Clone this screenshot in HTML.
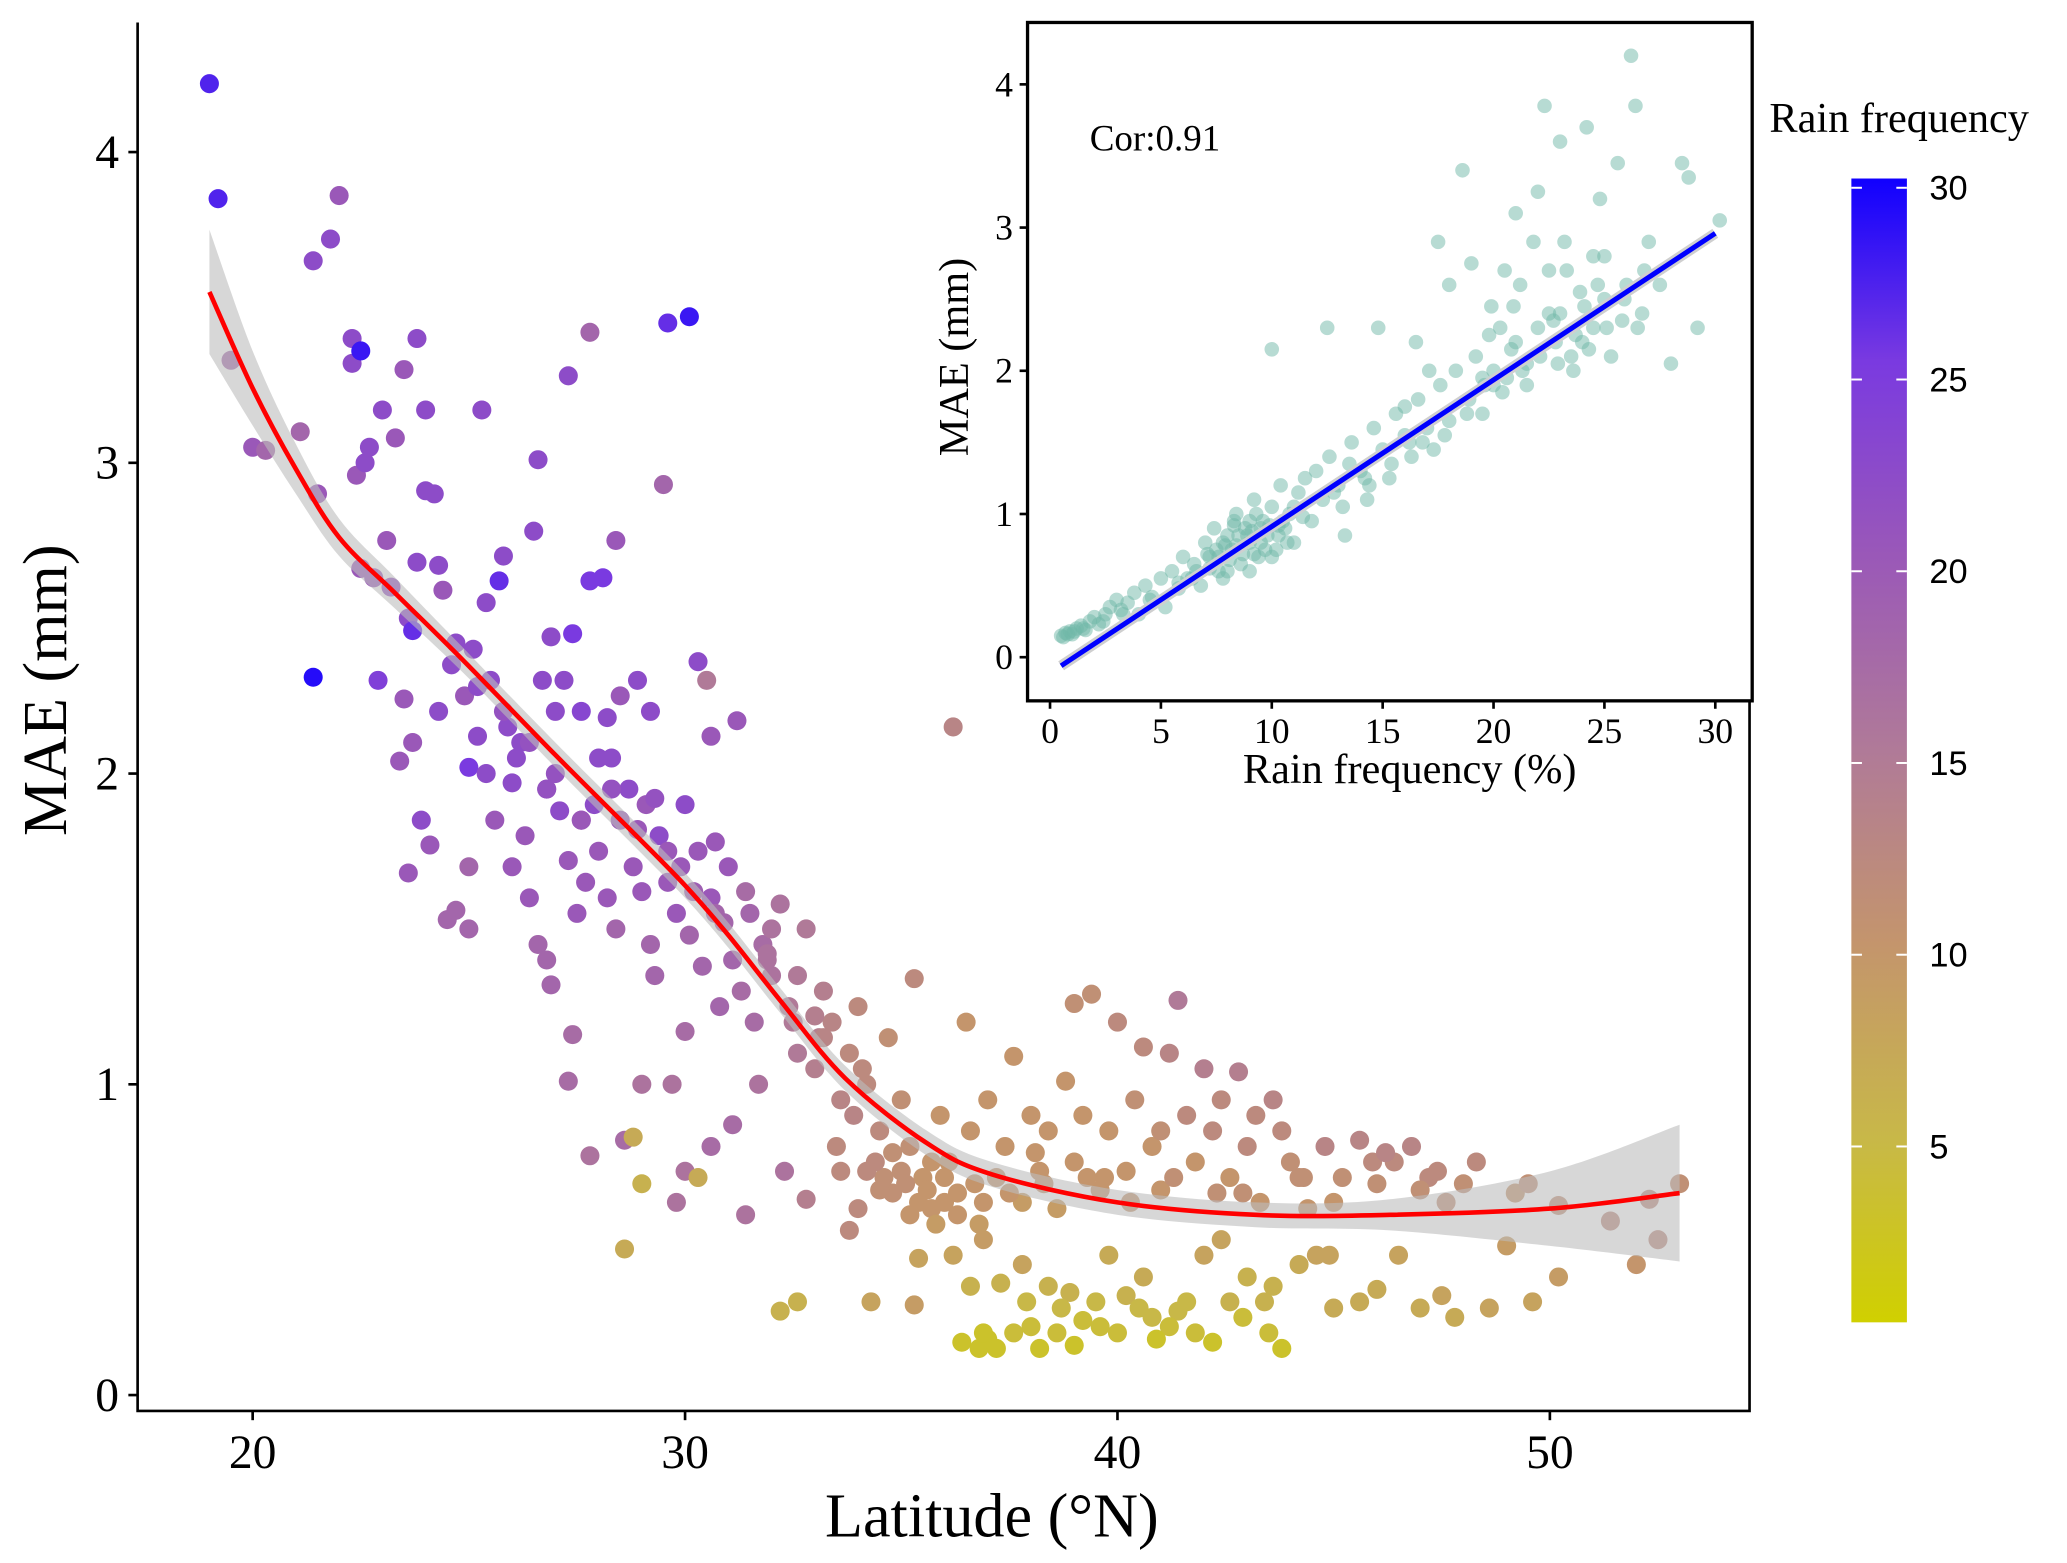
<!DOCTYPE html>
<html><head><meta charset="utf-8"><style>
html,body{margin:0;padding:0;background:#fff;}
svg{display:block;}
text{font-family:"Liberation Serif",serif;fill:#000;}
</style></head><body>
<svg id="chart" width="2067" height="1563" viewBox="0 0 1563 1182" xmlns="http://www.w3.org/2000/svg">
<defs>
<linearGradient id="cbg" x1="0" y1="1" x2="0" y2="0">
<stop offset="0" stop-color="#d0d000"/><stop offset="0.16" stop-color="#c8b848"/><stop offset="0.33" stop-color="#c4956c"/><stop offset="0.5" stop-color="#b07a98"/><stop offset="0.67" stop-color="#9a58b8"/><stop offset="0.84" stop-color="#7a3ae0"/><stop offset="1" stop-color="#1000ff"/>
</linearGradient>
</defs>
<g id="main"></g>
<g id="inset"></g>
<g id="legend"></g>
</svg>
<script>
// ---- main scatter data ----
const mainLat=[19.0,19.2,19.5,20.0,20.3,21.1,21.4,21.5,21.4,21.8,22.0,22.3,22.3,22.5,22.4,22.5,22.6,22.7,22.8,22.9,23.0,23.1,23.2,23.3,23.5,23.5,23.6,23.7,23.8,23.8,24.0,24.0,24.2,24.3,24.4,23.4,23.7,23.9,24.1,23.6,24.5,24.7,25.0,25.0,24.7,24.9,25.1,25.3,25.4,25.0,25.2,25.5,25.7,25.8,25.9,26.0,26.1,26.3,26.5,26.6,26.7,26.9,27.0,27.2,27.3,27.4,27.6,27.8,27.8,28.1,28.4,28.2,28.5,28.9,29.2,29.5,29.6,30.1,30.3,30.5,30.6,31.2,36.2,
25.4,25.6,26.0,26.4,26.6,26.8,26.9,27.1,27.3,27.5,27.7,27.9,28.0,28.2,28.4,28.5,28.7,28.8,29.0,29.2,29.3,29.4,29.6,29.8,30.0,30.1,30.3,30.4,30.6,30.8,31.0,31.1,31.3,31.5,31.6,31.8,32.0,32.2,32.4,32.6,32.8,33.0,33.2,33.4,33.6,33.8,34.0,34.2,34.5,34.7,35.0,35.3,27.4,27.3,28.6,29.0,29.7,30.0,30.0,29.8,30.3,29.0,28.8,28.6,27.8,31.4,31.1,30.6,31.7,32.3,32.8,32.2,32.6,34.3,35.3,33.6,33.8,34.0,
35.2,35.5,35.7,35.9,36.1,36.3,36.5,36.6,36.8,37.0,37.2,37.4,37.6,37.8,38.0,38.2,38.4,38.6,38.8,39.0,39.0,39.2,39.4,39.6,39.8,40.0,40.2,40.4,40.6,40.8,41.0,41.2,41.4,41.6,41.8,42.0,42.2,42.4,42.6,42.8,43.0,43.2,43.6,43.8,44.0,44.4,44.8,45.2,45.6,46.0,46.4,46.8,47.2,47.6,48.0,48.3,49.2,49.5,50.2,51.4,52.0,52.3,52.5,53.0,49.0,50.2,49.6,48.6,47.8,47.5,47.0,46.5,46.0,45.6,45.0,44.6,44.2,43.6,43.4,43.0,42.6,42.4,42.0,41.8,41.4,41.2,40.8,40.6,40.2,40.0,39.8,39.5,39.2,38.9,38.6,38.4,38.2,37.9,37.6,37.3,37.0,36.8,36.6,36.4,36.2,35.8,35.4,43.8,43.5,42.2,40.5,39.0,37.2,34.8,35.0,35.6,36.0,34.6,
26.2,26.8,27.6,28.3,29.1,29.9,30.7,31.9,32.5,33.1,33.9,34.4,36.9,38.1,39.7,41.0,42.9,44.3,45.9,47.4,
34.8,35.1,35.4,35.7,36.0,36.3,35.2,34.5,36.7,37.5,38.3,39.3,40.3,41.3,42.3,43.3,44.2,45.0,46.2,47.0,34.2,33.5,33.2,32.6,32.0,31.4,30.9,30.2,29.6,28.9,28.3,27.6,27.0,26.4,25.8,25.2,24.6,24.3,26.8,28.0,29.3,30.7,31.9,33.0,34.1,36.9,37.8,38.7,39.6,40.9,42.9,38.0,36.9,41.6,44.9];
const mainMae=[4.22,3.85,3.33,3.05,3.04,3.10,3.65,2.90,2.31,3.72,3.86,3.40,3.32,3.36,2.96,2.66,3.00,3.05,2.63,2.30,3.17,2.75,2.60,3.08,3.30,2.24,2.50,2.46,3.40,2.68,3.17,2.91,2.90,2.67,2.59,2.04,2.10,1.85,1.77,1.68,1.53,1.56,1.50,1.70,2.42,2.25,2.40,3.17,2.55,2.02,2.12,2.30,2.62,2.70,2.15,1.97,2.05,1.80,2.78,3.01,2.30,2.44,2.20,2.30,3.28,2.45,2.20,3.42,2.62,2.63,2.75,2.18,2.25,2.30,2.20,2.93,3.45,3.47,2.36,2.30,2.12,2.17,2.15,
2.00,1.85,1.70,1.60,1.45,1.40,1.32,1.88,1.72,1.55,1.65,1.90,1.75,1.60,1.50,1.85,1.95,1.70,1.62,1.45,1.35,1.80,1.65,1.55,1.90,1.48,1.75,1.38,1.60,1.25,1.70,1.40,1.30,1.55,1.20,1.45,1.35,1.58,1.25,1.10,1.50,1.05,1.30,1.20,0.95,1.10,1.25,1.00,0.85,1.15,0.95,1.34,1.16,1.01,0.82,1.00,1.00,1.17,0.72,0.62,0.70,0.68,0.83,0.47,0.77,0.58,0.87,0.80,1.00,0.72,0.63,0.27,0.30,0.30,0.29,0.72,0.53,0.60,
0.80,0.70,0.60,0.90,0.75,0.65,1.20,0.85,0.55,0.95,0.70,0.80,1.09,0.62,0.90,0.72,0.85,0.60,1.01,0.75,1.26,0.90,1.29,0.66,0.85,1.20,0.72,0.95,1.12,0.80,0.66,1.10,1.27,0.90,0.75,1.05,0.85,0.95,0.70,1.04,0.80,0.90,0.95,0.85,0.75,0.60,0.80,0.70,0.82,0.68,0.75,0.80,0.70,0.62,0.68,0.75,0.65,0.68,0.61,0.56,0.42,0.63,0.50,0.68,0.48,0.38,0.30,0.28,0.25,0.32,0.28,0.45,0.34,0.30,0.28,0.45,0.42,0.35,0.30,0.38,0.30,0.50,0.45,0.20,0.27,0.22,0.25,0.38,0.32,0.20,0.45,0.30,0.24,0.33,0.20,0.35,0.15,0.30,0.20,0.36,0.18,0.15,0.35,0.17,0.45,0.55,0.44,0.15,0.20,0.17,0.28,0.16,0.15,0.65,0.72,0.66,0.62,0.70,
2.10,1.95,1.85,2.05,1.90,1.70,1.55,1.40,1.20,1.15,0.90,0.75,0.62,0.78,0.70,0.85,0.65,0.70,0.75,0.72,
0.78,0.68,0.62,0.75,0.70,0.58,0.58,0.66,0.68,0.65,0.68,0.70,0.62,0.70,0.65,0.62,0.70,0.62,0.78,0.66,0.72,0.80,1.15,1.35,1.50,1.62,1.52,1.62,1.75,1.82,1.95,1.85,2.00,2.10,2.20,2.28,2.35,2.20,1.95,2.05,1.92,1.78,1.42,1.22,1.05,0.50,0.42,0.28,0.22,0.18,0.25,0.22,0.20,0.30,0.45];
const mainRf=[27,27,18,20,18,18,22,20,29,22,20,22,22,28,20,20,22,22,20,24,22,20,21,20,20,20,22,26,22,22,22,22,22,22,20,20,20,22,20,20,18,18,18,18,22,20,22,22,22,25,22,22,26,22,22,22,22,20,22,22,22,22,22,22,22,25,23,18,25,25,20,22,20,22,22,18,26,28,22,15,20,20,13,
22,20,20,20,18,18,18,22,20,20,20,22,20,20,18,20,22,20,20,18,18,22,20,20,22,18,20,18,20,18,20,18,17,18,17,17,16,16,15,15,15,14,14,13,13,12,12,12,12,11,11,12,17,17,17,16,16,17,16,16,7,6,7,7,16,16,17,17,16,16,14,6,6,8,9,12,12,12,
11,10,10,10,10,10,10,10,9,10,10,10,10,9,10,10,10,9,10,10,11,10,11,10,10,12,10,11,12,10,10,13,15,12,10,14,12,12,10,14,12,12,13,12,11,10,13,11,13,11,12,13,12,11,11,12,10,11,11,12,10,12,12,11,9,9,8,8,7,8,7,8,7,7,7,8,7,6,6,6,6,8,8,4,5,4,5,7,6,4,7,5,4,6,4,6,3,5,4,6,3,3,6,3,8,9,8,3,4,3,5,3,3,11,11,10,10,11,
22,21,21,22,20,20,18,16,15,14,13,12,10,10,10,11,11,11,12,12,
11,11,10,10,10,10,10,11,10,10,10,10,10,11,11,10,11,10,13,11,12,12,13,15,16,17,18,19,20,20,21,20,21,21,21,22,22,22,21,22,21,20,16,14,12,9,8,5,4,3,4,4,3,5,8];
// smooth (loess) curve and confidence band
const smoothLat=[19,20,21,22,23.3,24.9,27,28.8,30,31,32.2,33.7,35.6,37.1,40,43.2,46.3,50,53];
const smoothMae=[3.55,3.24,2.98,2.76,2.58,2.36,2.06,1.81,1.64,1.48,1.27,1.02,0.81,0.71,0.62,0.58,0.58,0.60,0.65];
const smoothSe=[0.2,0.12,0.08,0.06,0.05,0.04,0.04,0.04,0.04,0.04,0.04,0.04,0.04,0.04,0.04,0.04,0.05,0.12,0.22];
const mainXTicks=[20,30,40,50];
const mainYTicks=[0,1,2,3,4];
// ---- inset data ----
const insetRf=[0.5,0.7,0.9,1.0,1.2,1.4,1.6,1.8,2.0,2.2,2.5,2.7,3.0,3.2,3.5,3.8,4.0,4.3,4.6,5.0,5.2,5.5,5.8,6.0,6.2,6.5,6.8,7.0,7.2,7.4,7.6,7.8,8.0,8.2,8.4,8.6,8.8,9.0,9.2,9.4,9.6,9.8,10.0,10.0,10.2,10.4,10.6,10.8,11.0,11.2,11.5,11.8,12.0,12.3,12.6,13.0,13.3,13.6,14.0,14.3,14.6,15.0,15.3,15.6,16.0,16.3,16.6,17.0,17.3,17.6,18.0,18.3,18.6,18.9,19.2,19.5,19.8,20.0,20.3,20.6,20.9,21.2,21.5,21.8,22.0,22.3,22.5,22.8,23.0,23.3,23.6,23.9,24.2,24.5,24.8,25.0,25.3,25.6,25.9,26.2,26.4,26.7,27.0,27.5,28.0,28.5,28.8,29.2,30.2,12.5,14.8,16.5,17.5,18.0,19.0,21.0,20.5,7.5,8.5,9.5,10.5,9.0,8.0,11.0,10.0,9.3,8.7,21,22,23,24,25,26,22.5,24.5,20,21.5,23.5,0.6,0.8,1.1,6.6,7.1,7.9,8.3,9.1,9.7,10.3,11.4,13.5,14.4,16.2,19.5,22.7,24.1,26.8,
7.2,7.8,8.1,8.4,8.9,9.2,9.5,9.9,10.3,10.7,8.3,9.0,7.6,6.4,5.8,4.5,3.3,2.4,1.5,12.8,13.2,14.2,15.4,16.8,17.8,18.8,19.6,20.4,21.3,22.1,22.9,23.7,24.3,25.1,25.8,26.5,20.8,19.9,23.2,24.7,17.1,16.0];
const insetMae=[0.15,0.17,0.18,0.16,0.20,0.22,0.19,0.25,0.28,0.23,0.30,0.35,0.40,0.33,0.38,0.45,0.30,0.50,0.42,0.55,0.35,0.60,0.48,0.70,0.55,0.65,0.50,0.80,0.62,0.90,0.70,0.55,0.85,0.75,1.00,0.65,0.90,0.80,1.10,0.70,0.95,0.85,2.15,1.05,0.75,1.20,0.90,1.00,0.80,1.15,1.25,0.95,1.30,1.10,1.40,1.20,0.85,1.50,1.30,1.10,1.60,1.45,1.25,1.70,1.55,1.40,1.80,1.60,1.45,1.90,1.65,2.00,3.40,1.80,2.10,1.70,2.25,1.90,2.30,1.95,2.45,2.60,2.05,2.90,3.25,3.85,2.40,2.20,3.60,2.70,2.00,2.55,3.70,2.30,3.20,2.80,2.10,3.45,2.50,4.20,3.85,2.40,2.90,2.60,2.05,3.45,3.35,2.30,3.05,2.30,2.30,2.20,2.90,2.60,2.75,3.10,2.70,0.75,0.85,0.90,0.95,0.60,0.60,1.05,0.70,1.00,0.72,2.2,2.3,2.4,2.2,2.5,2.6,2.7,2.8,2.0,1.9,2.1,0.14,0.16,0.18,0.60,0.72,0.78,0.95,0.88,0.75,0.92,0.98,1.35,1.20,1.50,1.95,2.35,2.45,2.70,
0.70,0.80,0.68,0.78,0.85,0.72,0.80,0.92,0.85,0.80,0.92,0.95,0.60,0.55,0.52,0.40,0.30,0.25,0.20,1.15,1.05,1.25,1.35,1.50,1.55,1.70,1.90,1.85,2.00,2.10,2.05,2.25,2.15,2.30,2.35,2.30,2.15,2.45,2.90,2.60,2.00,1.75];
const regRf=[0.5,30];
const regMae=[-0.06,2.96];
const insetXTicks=[0,5,10,15,20,25,30];
const insetYTicks=[0,1,2,3,4];
const cbTicks=[5,10,15,20,25,30];

const NS="http://www.w3.org/2000/svg";
function mk(tag,attrs,parent){const e=document.createElementNS(NS,tag);for(const k in attrs)e.setAttribute(k,attrs[k]);parent.appendChild(e);return e;}
const mx=v=>191+(v-20)*32.7, my=v=>1055-v*235;
const ix=v=>794+v*16.77, iy=v=>497-v*108.3;
const cy=v=>142+(30-v)*29;
const stops=[[0,[208,208,0]],[5,[200,184,72]],[10,[196,149,108]],[15,[176,122,152]],[20,[154,88,184]],[25,[122,58,224]],[30,[16,0,255]]];
function col(v){v=Math.max(0,Math.min(30,v));for(let i=1;i<stops.length;i++){if(v<=stops[i][0]){const a=stops[i-1],b=stops[i],t=(v-a[0])/(b[0]-a[0]);return 'rgb('+a[1].map((c,j)=>Math.round(c+(b[1][j]-c)*t)).join(',')+')';}}return 'rgb(16,0,255)';}
function crPath(pts){let d='M'+pts[0][0]+','+pts[0][1];for(let i=0;i<pts.length-1;i++){const p0=pts[Math.max(0,i-1)],p1=pts[i],p2=pts[i+1],p3=pts[Math.min(pts.length-1,i+2)];d+=' C'+(p1[0]+(p2[0]-p0[0])/6)+','+(p1[1]+(p2[1]-p0[1])/6)+' '+(p2[0]-(p3[0]-p1[0])/6)+','+(p2[1]-(p3[1]-p1[1])/6)+' '+p2[0]+','+p2[1];}return d;}

const main=document.getElementById('main');
mainLat.forEach((la,i)=>{
 const c=mk('circle',{cx:mx(la),cy:my(mainMae[i]),r:7.2,fill:col(mainRf[i])},main);
 
 
});
const upP=smoothLat.map((la,i)=>[mx(la),my(smoothMae[i]+smoothSe[i])]);
const loP=smoothLat.map((la,i)=>[mx(la),my(smoothMae[i]-smoothSe[i])]).reverse();
const band=mk('path',{d:crPath(upP)+' L'+crPath(loP).slice(1)+' Z',fill:'#bdbdbd','fill-opacity':0.6},main);


const sm=mk('path',{d:crPath(smoothLat.map((la,i)=>[mx(la),my(smoothMae[i])])),fill:'none',stroke:'#ff0000','stroke-width':3.5},main);


const ax=mk('path',{d:'M104,17 V1067 H1323 V17',fill:'none',stroke:'#000','stroke-width':2},main);


mainXTicks.forEach(t=>{
 mk('line',{x1:mx(t),x2:mx(t),y1:1067,y2:1074,stroke:'#000','stroke-width':2},main);
 const tx=mk('text',{x:mx(t),y:1110,'text-anchor':'middle','font-size':36},main);tx.textContent=t;
 
 
});
mainYTicks.forEach(t=>{
 mk('line',{x1:97,x2:104,y1:my(t),y2:my(t),stroke:'#000','stroke-width':2},main);
 const tx=mk('text',{x:90,y:my(t)+12,'text-anchor':'end','font-size':36},main);tx.textContent=t;
 
 
});
const xt=mk('text',{x:750,y:1162,'text-anchor':'middle','font-size':47},main);xt.textContent='Latitude (°N)';


const yt=mk('text',{x:0,y:0,'text-anchor':'middle','font-size':47,transform:'translate(50,522) rotate(-90)'},main);yt.textContent='MAE (mm)';



const ins=document.getElementById('inset');
mk('rect',{x:777,y:17,width:548,height:513,fill:'#fff'},ins);
insetRf.forEach((r,i)=>{
 const c=mk('circle',{cx:ix(r),cy:iy(insetMae[i]),r:5.5,fill:'#6fb8a8','fill-opacity':0.5},ins);
 
 
});
const rl=mk('line',{x1:ix(regRf[0]),y1:iy(regMae[0]),x2:ix(regRf[1]),y2:iy(regMae[1]),stroke:'#cfcfcf','stroke-width':8},ins);


const rl2=mk('line',{x1:ix(regRf[0]),y1:iy(regMae[0]),x2:ix(regRf[1]),y2:iy(regMae[1]),stroke:'#0000ff','stroke-width':3.8},ins);


const ib=mk('rect',{x:777,y:17,width:548,height:513,fill:'none',stroke:'#000','stroke-width':2.5},ins);


insetXTicks.forEach(t=>{
 mk('line',{x1:ix(t),x2:ix(t),y1:530,y2:536,stroke:'#000','stroke-width':2},ins);
 const tx=mk('text',{x:ix(t),y:562,'text-anchor':'middle','font-size':27},ins);tx.textContent=t;
 
 
});
insetYTicks.forEach(t=>{
 mk('line',{x1:771,x2:777,y1:iy(t),y2:iy(t),stroke:'#000','stroke-width':2},ins);
 const tx=mk('text',{x:766,y:iy(t)+9,'text-anchor':'end','font-size':27},ins);tx.textContent=t;
 
 
});
const ixt=mk('text',{x:1066,y:592,'text-anchor':'middle','font-size':32},ins);ixt.textContent='Rain frequency (%)';


const iyt=mk('text',{x:0,y:0,'text-anchor':'middle','font-size':32,transform:'translate(732,270) rotate(-90)'},ins);iyt.textContent='MAE (mm)';


const cor=mk('text',{x:824,y:114,'font-size':28},ins);cor.textContent='Cor:0.91';



const lg=document.getElementById('legend');
const lt=mk('text',{x:1338,y:100,'font-size':32},lg);lt.textContent='Rain frequency';


const bar=mk('rect',{x:1400,y:135,width:42,height:865,fill:'url(#cbg)'},lg);


cbTicks.forEach(t=>{
 mk('line',{x1:1400,x2:1408,y1:cy(t),y2:cy(t),stroke:'#fff','stroke-width':1.5},lg);
 mk('line',{x1:1434,x2:1442,y1:cy(t),y2:cy(t),stroke:'#fff','stroke-width':1.5},lg);
 const tx=mk('text',{x:1459,y:cy(t)+9,'font-size':26,style:'font-family:"Liberation Sans",sans-serif'},lg);tx.textContent=t;
 
 
});
</script>
</body></html>
